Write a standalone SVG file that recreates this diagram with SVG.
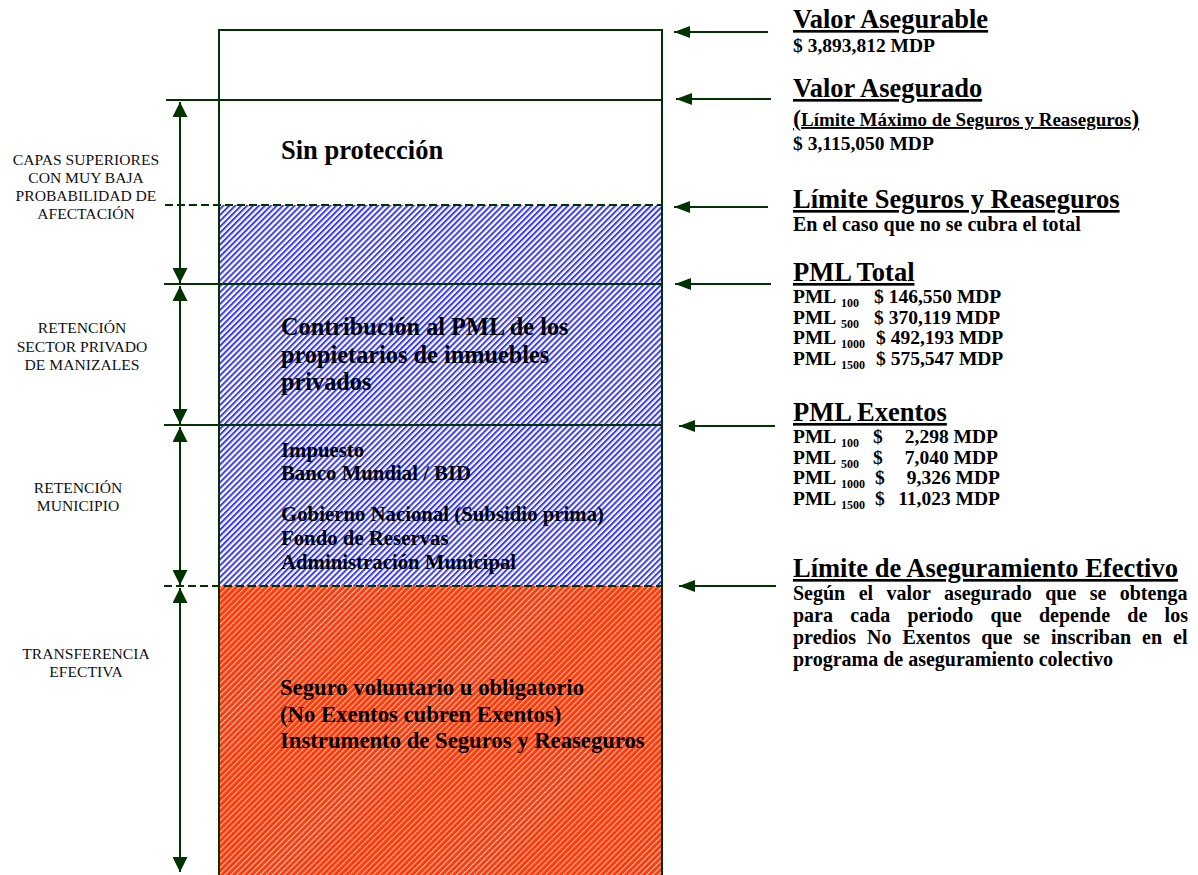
<svg xmlns="http://www.w3.org/2000/svg" width="1198" height="875" viewBox="0 0 1198 875">
<defs>
<style>
.t{font-family:"Liberation Serif","Times New Roman",serif;font-weight:bold;fill:#000}
.h{font-size:26.5px;text-decoration:underline;text-decoration-thickness:2px}
.s{font-size:20.8px}
.r{font-size:19.5px}
.p{font-size:20px}
.sub{font-size:12px}
.lab{font-family:"Liberation Serif","Times New Roman",serif;font-size:15.6px;fill:#111;text-anchor:middle}
.g{stroke:#003300;stroke-width:2;fill:none}
.d{stroke-dasharray:8 4}
.ar{stroke:#003300;stroke-width:2;fill:none}
</style>
<pattern id="blue" width="4.2" height="4.2" patternUnits="userSpaceOnUse" patternTransform="rotate(45)">
<rect width="4.2" height="4.2" fill="#ffffff"/>
<rect width="2" height="4.2" fill="#3c3cf2"/>
</pattern>
<pattern id="red" width="4.2" height="4.2" patternUnits="userSpaceOnUse" patternTransform="rotate(45)">
<rect width="4.2" height="4.2" fill="#ff3a0a"/>
<rect width="1.1" height="4.2" fill="#ffc4b0"/>
</pattern>
<marker id="mv" viewBox="0 0 15 15" refX="15" refY="7.5" markerWidth="15" markerHeight="15" markerUnits="userSpaceOnUse" orient="auto-start-reverse">
<path d="M0,0 L15,7.5 L0,15 z" fill="#003300"/>
</marker>
<marker id="mh" viewBox="0 0 16 12" refX="16" refY="6" markerWidth="16" markerHeight="12" markerUnits="userSpaceOnUse" orient="auto">
<path d="M0,0 L16,6 L0,12 z" fill="#003300"/>
</marker>
</defs>

<rect width="1198" height="875" fill="#ffffff"/>

<g id="column">
<rect x="220" y="205" width="442" height="381" fill="url(#blue)"/>
<rect x="220" y="586" width="442" height="289" fill="url(#red)"/>
<path class="g" d="M219,875 V30 H662 V875"/>
</g>

<g id="layer-sin-proteccion">
<text class="t" x="281" y="159" font-size="26.5">Sin protección</text>
</g>

<g id="layer-contribucion">
<text class="t" x="281" y="335" font-size="24.3">Contribución al PML de los</text>
<text class="t" x="281" y="363" font-size="24.3">propietarios de inmuebles</text>
<text class="t" x="281" y="390" font-size="24.3">privados</text>
</g>

<g id="layer-municipio">
<text class="t s" x="281" y="457">Impuesto</text>
<text class="t s" x="281" y="480">Banco Mundial / BID</text>
<text class="t s" x="281" y="521">Gobierno Nacional (Subsidio prima)</text>
<text class="t s" x="281" y="545">Fondo de Reservas</text>
<text class="t s" x="281" y="569">Administración Municipal</text>
</g>

<g id="layer-transferencia">
<text class="t" x="280" y="695" font-size="22.7">Seguro voluntario u obligatorio</text>
<text class="t" x="280" y="722" font-size="22.7">(No Exentos cubren Exentos)</text>
<text class="t" x="280" y="748" font-size="22.7">Instrumento de Seguros y Reaseguros</text>
</g>

<g id="label-capas">
<text class="lab" x="86" y="165">CAPAS SUPERIORES</text>
<text class="lab" x="86" y="183">CON MUY BAJA</text>
<text class="lab" x="86" y="201">PROBABILIDAD DE</text>
<text class="lab" x="86" y="219">AFECTACIÓN</text>
</g>
<g id="label-retencion-privado">
<text class="lab" x="82" y="333">RETENCIÓN</text>
<text class="lab" x="82" y="351.5">SECTOR PRIVADO</text>
<text class="lab" x="82" y="370">DE MANIZALES</text>
</g>
<g id="label-retencion-municipio">
<text class="lab" x="78" y="493">RETENCIÓN</text>
<text class="lab" x="78" y="511">MUNICIPIO</text>
</g>
<g id="label-transferencia">
<text class="lab" x="86" y="659">TRANSFERENCIA</text>
<text class="lab" x="86" y="677">EFECTIVA</text>
</g>

<g id="note-valor-asegurable">
<text class="t h" x="793" y="28">Valor Asegurable</text>
<text class="t r" x="793" y="52">$ 3,893,812 MDP</text>
</g>
<g id="note-valor-asegurado">
<text class="t h" x="793" y="97">Valor Asegurado</text>
<text class="t" x="793" y="126" font-size="19" text-decoration="underline"><tspan font-size="24">(</tspan>Límite Máximo de Seguros y Reaseguros<tspan font-size="24">)</tspan></text>
<text class="t r" x="793" y="150">$ 3,115,050 MDP</text>
</g>
<g id="note-limite-seguros">
<text class="t h" x="793" y="208">Límite Seguros y Reaseguros</text>
<text class="t p" x="793" y="231">En el caso que no se cubra el total</text>
</g>
<g id="note-pml-total">
<text class="t h" x="793" y="281">PML Total</text>
<text class="t r" x="793" y="303">PML</text><text class="t sub" x="841" y="307">100</text><text class="t r" x="874" y="303">$ 146,550 MDP</text>
<text class="t r" x="793" y="323.5">PML</text><text class="t sub" x="841" y="327.5">500</text><text class="t r" x="874" y="323.5">$ 370,119 MDP</text>
<text class="t r" x="793" y="344">PML</text><text class="t sub" x="841" y="348">1000</text><text class="t r" x="876" y="344">$ 492,193 MDP</text>
<text class="t r" x="793" y="364.5">PML</text><text class="t sub" x="841" y="368.5">1500</text><text class="t r" x="876" y="364.5">$ 575,547 MDP</text>
</g>
<g id="note-pml-exentos">
<text class="t h" x="793" y="421">PML Exentos</text>
<text class="t r" x="793" y="443">PML</text><text class="t sub" x="841" y="447">100</text><text class="t r" x="873" y="443">$</text><text class="t r" x="998" y="443" text-anchor="end">2,298 MDP</text>
<text class="t r" x="793" y="463.5">PML</text><text class="t sub" x="841" y="467.5">500</text><text class="t r" x="873" y="463.5">$</text><text class="t r" x="998" y="463.5" text-anchor="end">7,040 MDP</text>
<text class="t r" x="793" y="484">PML</text><text class="t sub" x="841" y="488">1000</text><text class="t r" x="875" y="484">$</text><text class="t r" x="1000" y="484" text-anchor="end">9,326 MDP</text>
<text class="t r" x="793" y="504.5">PML</text><text class="t sub" x="841" y="508.5">1500</text><text class="t r" x="875" y="504.5">$</text><text class="t r" x="1000" y="504.5" text-anchor="end">11,023 MDP</text>
</g>
<g id="note-limite-efectivo">
<text class="t h" x="793" y="577">Límite de Aseguramiento Efectivo</text>
<text class="t p" x="793" y="600" word-spacing="8.4">Según el valor asegurado que se obtenga</text>
<text class="t p" x="793" y="622" word-spacing="12.3">para cada periodo que depende de los</text>
<text class="t p" x="793" y="644" word-spacing="6">predios No Exentos que se inscriban en el</text>
<text class="t p" x="793" y="666">programa de aseguramiento colectivo</text>
</g>

<g id="connectors">
<line class="g" x1="166" y1="100" x2="662" y2="100"/>
<line class="g d" x1="165" y1="205" x2="662" y2="205"/>
<line class="g" x1="164" y1="284" x2="662" y2="284"/>
<line class="g" x1="164" y1="425" x2="662" y2="425"/>
<line class="g d" x1="164" y1="586" x2="662" y2="586"/>
<line class="ar" x1="180" y1="102" x2="180" y2="283" marker-start="url(#mv)" marker-end="url(#mv)"/>
<line class="ar" x1="180" y1="286" x2="180" y2="424" marker-start="url(#mv)" marker-end="url(#mv)"/>
<line class="ar" x1="180" y1="427" x2="180" y2="585" marker-start="url(#mv)" marker-end="url(#mv)"/>
<line class="ar" x1="180" y1="588" x2="180" y2="872" marker-start="url(#mv)" marker-end="url(#mv)"/>
<line class="ar" x1="768" y1="32" x2="674" y2="32" marker-end="url(#mh)"/>
<line class="ar" x1="771" y1="99" x2="676" y2="99" marker-end="url(#mh)"/>
<line class="ar" x1="768" y1="207" x2="674" y2="207" marker-end="url(#mh)"/>
<line class="ar" x1="771" y1="284" x2="675" y2="284" marker-end="url(#mh)"/>
<line class="ar" x1="775" y1="426" x2="679" y2="426" marker-end="url(#mh)"/>
<line class="ar" x1="776" y1="586" x2="679" y2="586" marker-end="url(#mh)"/>
</g>
</svg>
